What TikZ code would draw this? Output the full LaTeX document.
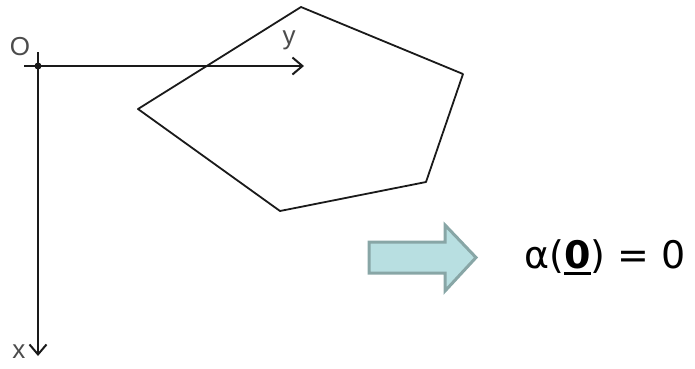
\documentclass[tikz,border=0pt]{standalone}
\usepackage{fontspec}
\setmainfont{Liberation Sans}
\newfontfamily\resfont{DejaVu Sans}
\usetikzlibrary{arrows.meta,positioning}
\definecolor{ArrowFill}{HTML}{B8DFE1}
\definecolor{ArrowEdge}{HTML}{88A6A6}
\definecolor{LineGray}{HTML}{1A1A1A}
\newcommand\thickul[1]{\setbox0\hbox{#1}\rlap{\rule[-7pt]{\wd0}{3.2pt}}\box0}

\begin{document}
\begin{tikzpicture}[x=1pt,y=-1pt,>={Straight Barb[length=10pt,width=17pt]},
  axis/.style={LineGray,line width=2pt},
  lbl/.style={inner sep=0pt,font=\fontsize{26}{26}\selectfont,black!70}]
  \useasboundingbox (0,0) rectangle (695,368);
  % axes
  \coordinate (O) at (38,66);
  \coordinate (yend) at (304,66);
  \coordinate (xend) at (38,356);
  \draw[axis,->] (O) -- (yend);
  \draw[axis,->] (O) -- (xend);
  \draw[axis] (24,66) -- (O) -- (38,52);
  \fill[LineGray] (O) circle (3.5pt);
  \node[lbl] (olbl) at (20,47) {O};
  \node[lbl] (ylbl) at (289,40) {y};
  \node[lbl] (xlbl) at (19,352) {x};
  % pentagon
  \draw[axis,line width=1.8pt,line join=round]
    (301,7) -- (463,74) -- (426,182) -- (280,211) -- (138,109) -- cycle;
  % block arrow
  \draw[ArrowEdge,fill=ArrowFill,line width=3pt]
    (369,242) -- (445,242) -- (445,225) -- (476,257.5) -- (445,291)
    -- (445,273) -- (369,273) -- cycle;
  \node[anchor=base west,inner sep=0pt,font=\resfont\fontsize{38}{38}\selectfont] (res)
    at (524,268) {α(\thickul{\textbf{0}}) = 0};
\end{tikzpicture}
\end{document}
